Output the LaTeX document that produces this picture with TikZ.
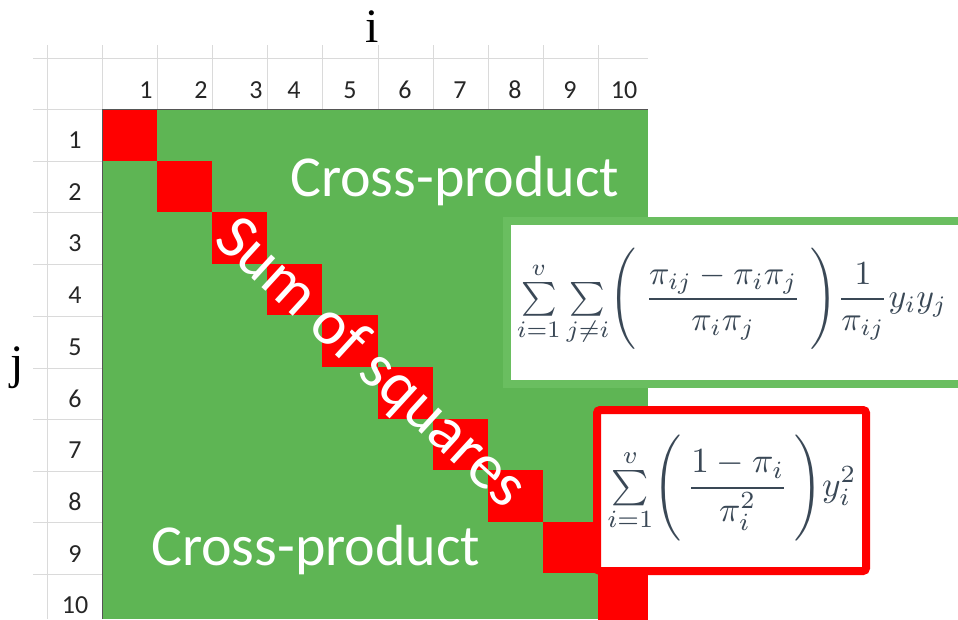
\documentclass[tikz,border=0pt]{standalone}
\usepackage{amsmath,amssymb}
\usepackage{graphicx}
\usepackage[no-math]{fontspec}
\setmainfont{Carlito}
\newfontfamily\axisfont{Liberation Serif}
\usetikzlibrary{positioning,calc}
\definecolor{cellgreen}{RGB}{94,181,84}
\definecolor{boxgreen}{RGB}{106,190,96}
\definecolor{gridgray}{RGB}{218,218,218}
\definecolor{edgegray}{RGB}{85,85,85}
\definecolor{mathink}{RGB}{58,72,86}
\tikzset{
  gridln/.style  = {draw=gridgray, line width=1pt},
  edgeln/.style  = {draw=edgegray, line width=1pt},
  hdr/.style     = {font=\fontsize{26}{28}\selectfont, inner sep=0pt, text=black!85},
  diagsq/.style  = {fill=red},
  bigtxt/.style  = {font=\fontsize{58}{60}\selectfont, text=white, inner sep=0pt},
  axislbl/.style = {font=\axisfont\fontsize{48}{50}\selectfont, inner sep=0pt},
  eqbox/.style   = {line width=8pt, fill=white},
  eq/.style      = {text=mathink, inner sep=0pt}
}

\begin{document}
\begin{tikzpicture}[x=1pt, y=-1pt]
\useasboundingbox (0,0) rectangle (958,619);

% --- sheet grid ---
\draw[gridln] (33,58) -- (648,58);
\foreach \y in {109,161,212,264,316,368,419,471,522,574}
  \draw[gridln] (33,\y) -- (102,\y);
\draw[gridln] (47,45) -- (47,619);
\foreach \x in {102,157,212,267,322,378,433,488,543,598}
  \draw[gridln] (\x,45) -- (\x,109);

% --- green matrix and red diagonal ---
\fill[cellgreen] (102,109) rectangle (648,619);
\foreach \k/\xa/\xb in {0/102/157, 1/157/212, 2/212/267, 3/267/322, 4/322/378,
                        5/378/433, 6/433/488, 7/488/543, 8/543/598, 9/598/648}
  \fill[diagsq] (\xa,{109+51.6*\k}) rectangle (\xb,{109+51.6*(\k+1)});
\draw[edgeln] (102,619) -- (102,109) -- (648,109);

% --- column and row numbers ---
\foreach \n/\x in {1/146, 2/201, 3/256, 4/294, 5/350, 6/405, 7/460, 8/515, 9/570, 10/624}
  \node[hdr] (col\n) at (\x,90) {\n};
\foreach \n in {1,...,10}
  \node[hdr] (row\n) at (75,{140+51.7*(\n-1)}) {\n};

\node[axislbl] (ilbl) at (372,27) {i};
\node[axislbl] (jlbl) at (17,368) {j};

% --- region labels ---
\node[bigtxt, anchor=base west] (crossup) at (290,196) {Cross-product};
\node[bigtxt, anchor=base west] (crossdn) at (151,565) {Cross-product};
\node[bigtxt, font=\fontsize{64}{66}\selectfont, rotate=-42.5] (sumsq) at (370,364) {Sum of squares};

% --- formula boxes ---
\draw[eqbox, draw=boxgreen] (507,221) rectangle (962,384);
\node[eq] (crossf) at (732,299)
  {\resizebox{430pt}{!}{$\displaystyle {\textstyle\sum\limits_{i=1}^{v}\sum\limits_{j\neq i}}
   \Biggl(\;\frac{\pi_{ij}-\pi_i\pi_j}{\pi_i\pi_j}\;\Biggr)\frac{1}{\pi_{ij}}y_iy_j$}};

\draw[eqbox, draw=red, rounded corners=3pt] (597,410) rectangle (866,571);
\node[eq] (sqf) at (732,488)
  {\resizebox{249pt}{!}{$\displaystyle {\textstyle\sum\limits_{i=1}^{v}}
   \Biggl(\,\frac{1-\pi_i}{\pi_i^2}\,\Biggr)y_i^2$}};

\end{tikzpicture}
\end{document}
